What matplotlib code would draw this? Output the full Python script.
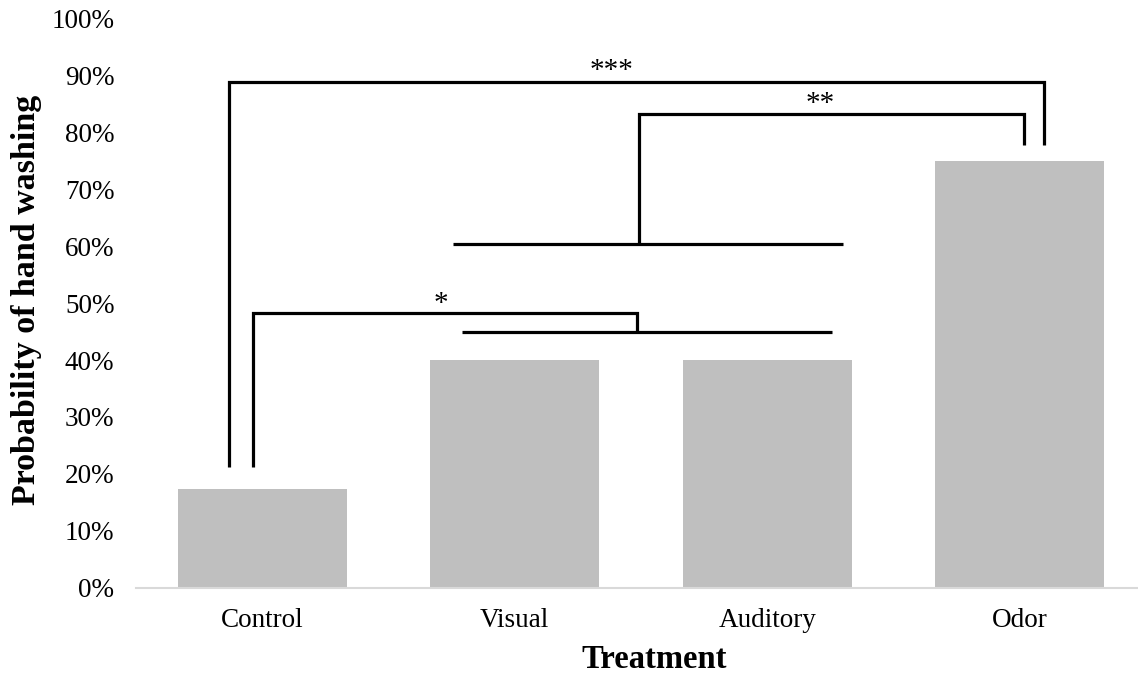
import matplotlib
matplotlib.use("Agg")
import matplotlib.pyplot as plt
from matplotlib.ticker import PercentFormatter

# ---- data ----
categories = ["Control", "Visual", "Auditory", "Odor"]
probabilities = [17.4, 40.0, 40.0, 75.0]
y_ticks = [0, 10, 20, 30, 40, 50, 60, 70, 80, 90, 100]

# significance annotations (path in data coords, label, label position)
brackets = [
    {"xs": [-0.133, -0.133, 3.095, 3.095], "ys": [21.2, 88.9, 88.9, 77.8], "label": "***", "lx": 1.385, "ly": 91.4},
    {"xs": [1.491, 1.491, 3.016, 3.016], "ys": [60.5, 83.3, 83.3, 77.8], "label": "**", "lx": 2.208, "ly": 85.6},
    {"xs": [0.754, 2.299], "ys": [60.5, 60.5], "label": None},
    {"xs": [-0.035, -0.035, 1.483, 1.483], "ys": [21.2, 48.3, 48.3, 45.0], "label": "*", "lx": 0.707, "ly": 50.4},
    {"xs": [0.790, 2.255], "ys": [45.0, 45.0], "label": None},
]

plt.rcParams["font.family"] = ["Liberation Serif", "DejaVu Serif"]

W, H = 1138, 676
fig = plt.figure(figsize=(W / 100, H / 100), dpi=100)
ax = fig.add_axes([136 / W, 1 - 587.5 / H, 1010 / W, (587.5 - 19) / H])

x = list(range(len(categories)))
ax.bar(x, probabilities, width=0.67, color="#bfbfbf", zorder=2)

ax.set_xlim(-0.5, 3.5)
ax.set_ylim(0, 100)
ax.set_yticks(y_ticks)
ax.yaxis.set_major_formatter(PercentFormatter(decimals=0))
ax.set_xticks(x)
ax.set_xticklabels(categories)
ax.tick_params(axis="both", length=0, labelsize=19.5, colors="#000000")
ax.tick_params(axis="y", pad=15.5)
ax.tick_params(axis="x", pad=15)

for s in ["top", "right", "left"]:
    ax.spines[s].set_visible(False)
ax.spines["bottom"].set_color("#d9d9d9")
ax.spines["bottom"].set_linewidth(1.5)

fig.text(35 / W, 1 - 300 / H, "Probability of hand washing", rotation=90,
         rotation_mode="anchor", ha="center", va="baseline",
         fontsize=24.5, fontweight="bold")
fig.text(654.5 / W, 1 - 668 / H, "Treatment", ha="center", va="baseline",
         fontsize=23.5, fontweight="bold")

for b in brackets:
    ax.plot(b["xs"], b["ys"], color="black", linewidth=2.3, solid_joinstyle="miter",
            solid_capstyle="butt", clip_on=False, zorder=3)
    if b["label"]:
        ax.text(b["lx"], b["ly"], b["label"], ha="center", va="center_baseline",
                fontsize=21, zorder=4)

fig.savefig("out.png", dpi=100)
